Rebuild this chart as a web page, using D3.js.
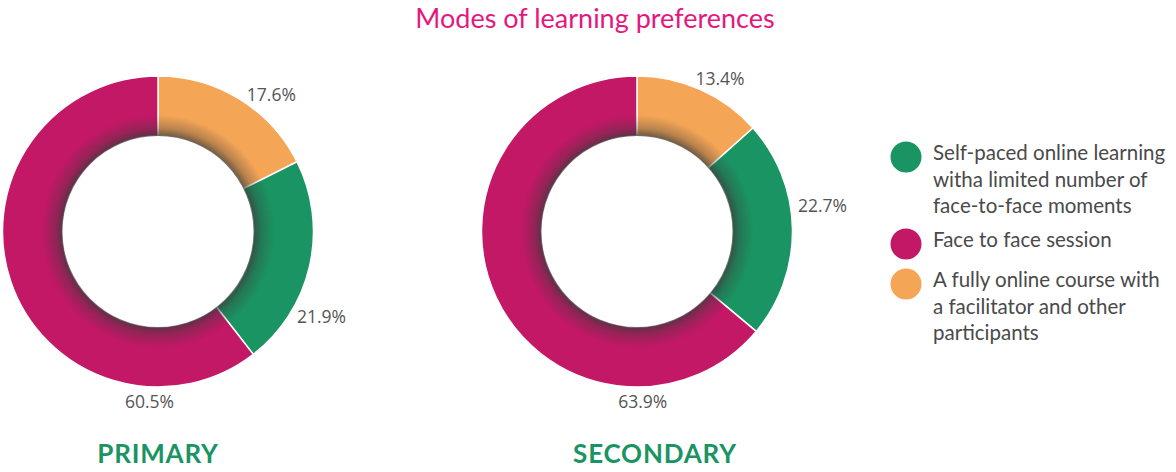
<!DOCTYPE html>
<html>
<head>
<meta charset="utf-8">
<script src="https://cdn.jsdelivr.net/npm/d3@7"></script>
<style>
  body { margin: 0; background: #fff; }
  svg { display: block; }
</style>
</head>
<body>
<svg id="chart" width="1176" height="472"></svg>
<script>
// data
var title = "Modes of learning preferences";
var groups = ["PRIMARY", "SECONDARY"];
var categories = [
  "Self-paced online learning witha limited number of face-to-face moments",
  "Face to face session",
  "A fully online course with a facilitator and other participants"
];
var legendLines = [
  ["Self-paced online learning", "witha limited number of", "face-to-face moments"],
  ["Face to face session"],
  ["A fully online course with", "a facilitator and other", "participants"]
];
var primaryValues = [21.9, 60.5, 17.6];
var secondaryValues = [22.7, 63.9, 13.4];
var colors = ["#1a9462", "#c21866", "#f4a556"];

// layout
var w = 1176, h = 472;
var outerR = 155.5, innerR = 95.5;
var centers = [[158, 231.5], [637, 231.5]];
var groupLabelX = [158, 655];
var sliceOrder = [2, 0, 1];               // orange, green, magenta clockwise from top
var labelAngles = [[33, 121.5, 183], [21, 81, 178]];  // degrees, per slice in draw order

var svg = d3.select("#chart");
var defs = svg.append("defs");

svg.append("text")
  .attr("x", 595).attr("y", 27.5)
  .attr("text-anchor", "middle")
  .attr("font-family", "Lato, sans-serif")
  .attr("font-size", 27)
  .attr("fill", "#e5177e")
  .text(title);

var grad = defs.append("radialGradient")
  .attr("id", "innerShade")
  .attr("cx", 0.5).attr("cy", 0.5).attr("r", 0.5);
grad.append("stop").attr("offset", innerR / outerR).attr("stop-color", "#3a3a3a").attr("stop-opacity", 0.72);
grad.append("stop").attr("offset", (innerR + 8) / outerR).attr("stop-color", "#3a3a3a").attr("stop-opacity", 0.32);
grad.append("stop").attr("offset", (innerR + 21) / outerR).attr("stop-color", "#3a3a3a").attr("stop-opacity", 0);
grad.append("stop").attr("offset", 1).attr("stop-color", "#3a3a3a").attr("stop-opacity", 0);

var pie = d3.pie().sort(null).value(function(d) { return d.value; });
var arc = d3.arc().innerRadius(innerR).outerRadius(outerR);

[primaryValues, secondaryValues].forEach(function(vals, gi) {
  var data = sliceOrder.map(function(i) { return {cat: i, value: vals[i]}; });
  var g = svg.append("g")
    .attr("transform", "translate(" + centers[gi][0] + "," + centers[gi][1] + ")");

  g.selectAll("path.slice")
    .data(pie(data))
    .enter().append("path")
      .attr("class", "slice")
      .attr("d", arc)
      .attr("fill", function(d) { return colors[d.data.cat]; })
      .attr("stroke", "#fff")
      .attr("stroke-width", 1.5);

  // inner shading ring
  g.append("path")
    .attr("d", d3.arc().innerRadius(innerR).outerRadius(outerR)({startAngle: 0, endAngle: 2 * Math.PI}))
    .attr("fill", "url(#innerShade)");

  // value labels
  var labelR = 163;
  g.selectAll("text.val")
    .data(pie(data))
    .enter().append("text")
      .attr("class", "val")
      .each(function(d, i) {
        var a = labelAngles[gi][i] * Math.PI / 180;
        var x = labelR * Math.sin(a), y = -labelR * Math.cos(a);
        var bottom = labelAngles[gi][i] > 160;
        d3.select(this)
          .attr("x", x)
          .attr("y", bottom ? y + 14 : y + 6)
          .attr("text-anchor", bottom ? "middle" : "start");
      })
      .attr("font-family", "'Open Sans', sans-serif")
      .attr("font-size", 17.5)
      .attr("fill", "#555")
      .text(function(d) { return d.data.value.toFixed(1) + "%"; });

  svg.append("text")
    .attr("x", groupLabelX[gi]).attr("y", 463)
    .attr("text-anchor", "middle")
    .attr("font-family", "Lato, sans-serif")
    .attr("font-weight", "bold")
    .attr("font-size", 26)
    .attr("letter-spacing", 0.8)
    .attr("fill", "#1a9462")
    .text(groups[gi]);
});

// legend
var legendY = [160, 247, 287];
var legend = svg.append("g").attr("transform", "translate(906,0)");
legendLines.forEach(function(lines, i) {
  legend.append("circle")
    .attr("cx", 0).attr("cy", legendY[i] - 3)
    .attr("r", 15.5)
    .attr("fill", colors[i]);
  var t = legend.append("text")
    .attr("font-family", "Lato, sans-serif")
    .attr("font-size", 20.5)
    .attr("fill", "#4a4a4a");
  lines.forEach(function(line, j) {
    t.append("tspan")
      .attr("x", 27)
      .attr("y", legendY[i] + j * 26.5)
      .text(line);
  });
});
</script>
</body>
</html>
